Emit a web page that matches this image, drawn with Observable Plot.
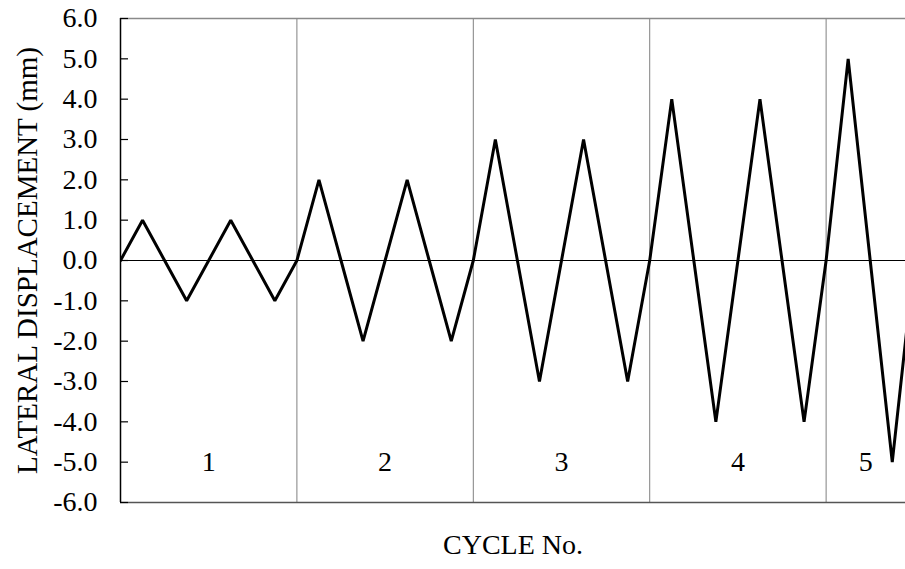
<!DOCTYPE html>
<html>
<head>
<meta charset="utf-8">
<script src="https://cdn.jsdelivr.net/npm/d3@7"></script>
<script src="https://cdn.jsdelivr.net/npm/@observablehq/plot@0.6"></script>
<style>
  html, body { margin: 0; padding: 0; background: #fff; }
  #chart svg { font-family: "Liberation Serif", "Times New Roman", serif; display: block; }
</style>
</head>
<body>
<div id="chart"></div>
<script>
// Loading history: quarter-cycle step index and lateral displacement (mm)
const steps = [0, 1, 2, 3, 4, 5, 6, 7, 8, 9, 10, 11, 12, 13, 14, 15, 16, 17, 18, 19, 20,
               21, 22, 23, 24, 25, 26, 27, 28, 29, 30, 31, 32, 33, 34, 35, 36];
const displacement = [0, 1, 0, -1, 0, 1, 0, -1,
                      0, 2, 0, -2, 0, 2, 0, -2,
                      0, 3, 0, -3, 0, 3, 0, -3,
                      0, 4, 0, -4, 0, 4, 0, -4,
                      0, 5, 0, -5, 0];
const cycleLabels = ["1", "2", "3", "4", "5"];
const cycleStart = [0, 8, 16, 24, 32];
const cycleEnd = [8, 16, 24, 32, 40];
const cycleBounds = [8, 16, 24, 32];
const yTicks = [6, 5, 4, 3, 2, 1, 0, -1, -2, -3, -4, -5, -6];
const xMax = 35.6;

const series = steps.map((s, i) => ({step: s, disp: displacement[i]}));
const cycles = cycleLabels.map((c, i) => ({
  label: c,
  mid: (cycleStart[i] + Math.min(cycleEnd[i], xMax)) / 2
}));
const fmt = d => d.toFixed(1);
const FS = 28;

const chart = Plot.plot({
  width: 905,
  height: 569,
  marginLeft: 120,
  marginRight: 0,
  marginTop: 18,
  marginBottom: 67,
  style: {fontFamily: "Liberation Serif, Times New Roman, serif", background: "#fff"},
  x: {domain: [0, xMax], axis: null},
  y: {domain: [-6, 6], axis: null},
  marks: [
    Plot.ruleX(cycleBounds, {stroke: "#808080", strokeWidth: 1}),
    Plot.ruleY([6], {stroke: "#8a8a8a", strokeWidth: 1.5}),
    Plot.ruleY([-6], {stroke: "#555", strokeWidth: 1.5}),
    Plot.ruleY([0], {stroke: "#000", strokeWidth: 1}),
    Plot.ruleX([0], {stroke: "#000", strokeWidth: 1.5}),
    Plot.axisY(yTicks, {anchor: "left", tickSize: 8, dx: 8, tickFormat: () => "", label: null, stroke: "#000", strokeWidth: 1.2}),
    Plot.axisY(yTicks, {anchor: "left", tickSize: 0, tickPadding: 23, tickFormat: fmt, label: null, fontSize: FS, fill: "#000"}),
    Plot.line(series, {x: "step", y: "disp", stroke: "#000", strokeWidth: 3, strokeLinejoin: "miter", clip: true}),
    Plot.text(cycles, {x: "mid", y: -5, text: "label", fontSize: FS, fill: "#000"}),
    Plot.text(["CYCLE No."], {frameAnchor: "bottom", dy: 51, text: d => d, fontSize: FS, fill: "#000", textAnchor: "middle"}),
    Plot.text(["LATERAL DISPLACEMENT (mm)"], {frameAnchor: "left", dx: -93, rotate: -90, text: d => d, fontSize: 29, fill: "#000", textAnchor: "middle"})
  ]
});
document.getElementById("chart").appendChild(chart);
</script>
</body>
</html>
